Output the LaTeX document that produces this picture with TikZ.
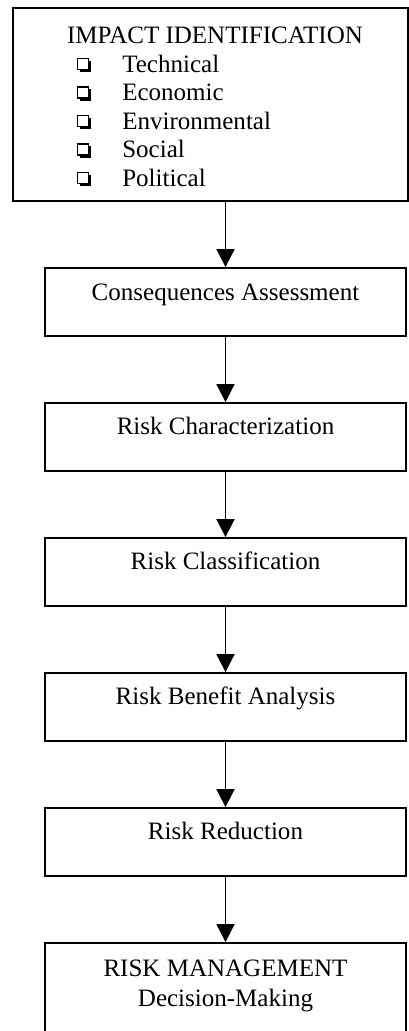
\documentclass[tikz,border=0pt]{standalone}
\usepackage{fontspec}
\setmainfont{Liberation Serif}
\usetikzlibrary{arrows.meta, positioning, shadows}

\begin{document}
\begin{tikzpicture}[
          outer/.style={
              draw=black,
              line width=1.4pt,
              minimum width=9.875cm,
              minimum height=4.825cm
            },
          flowbox/.style={
              draw=black,
              line width=1.3pt,
              minimum width=9.025cm,
              minimum height=1.7cm
            },
          flowtext/.style={
              font=\fontsize{17.8}{20.5}\selectfont,
              inner sep=0pt,
              anchor=base
            },
          item/.style={
              font=\fontsize{17.8}{20.5}\selectfont,
              inner sep=0pt,
              anchor=base west
            },
          bullet/.style={
              draw=black,
              fill=white,
              line width=0.9pt,
              minimum size=0.28cm,
              inner sep=0pt,
              general shadow={fill=black, shadow xshift=0.06cm, shadow yshift=-0.06cm}
            },
          arr/.style={-{Triangle[length=0.45cm, width=0.45cm]}, black, line width=1.3pt}
        ]
        \useasboundingbox (0,0) rectangle (10.225,-25.775);
        \clip (0,0) rectangle (10.225,-25.775);

        \node[outer] (impact_box) at (5.2625,-2.6125) {};
        \node[flowtext] (impact_title) at (5.375,-1.075) {IMPACT IDENTIFICATION};
        \node[bullet] (b_tech) at (2.075,-1.60) {};
        \node[item] (i_tech) at (3.05,-1.80) {Technical};
        \node[bullet] (b_econ) at (2.075,-2.3125) {};
        \node[item] (i_econ) at (3.05,-2.5125) {Economic};
        \node[bullet] (b_env) at (2.075,-3.025) {};
        \node[item] (i_env) at (3.05,-3.225) {Environmental};
        \node[bullet] (b_soc) at (2.075,-3.7375) {};
        \node[item] (i_soc) at (3.05,-3.9375) {Social};
        \node[bullet] (b_pol) at (2.075,-4.45) {};
        \node[item] (i_pol) at (3.05,-4.65) {Political};

        \node[flowbox] (cons) at (5.6375,-7.55) {};
        \node[flowtext] at ([yshift=-0.84cm]cons.north) {Consequences Assessment};
        \node[flowbox] (charac) at (5.6375,-10.925) {};
        \node[flowtext] at ([yshift=-0.82cm]charac.north) {Risk Characterization};
        \node[flowbox] (classif) at (5.6375,-14.3) {};
        \node[flowtext] at ([yshift=-0.82cm]classif.north) {Risk Classification};
        \node[flowbox] (benefit) at (5.6375,-17.675) {};
        \node[flowtext] at ([yshift=-0.80cm]benefit.north) {Risk Benefit Analysis};
        \node[flowbox] (reduct) at (5.6375,-21.05) {};
        \node[flowtext] at ([yshift=-0.80cm]reduct.north) {Risk Reduction};
        \node[flowbox, minimum height=2.5cm] (manage) at (5.6375,-24.825) {};
        \node[flowtext] (manage_title) at ([yshift=-0.85cm]manage.north) {RISK MANAGEMENT};
        \node[flowtext] (manage_sub) at ([yshift=-1.60cm]manage.north) {Decision-Making};

        \draw[arr] (impact_box.south -| cons.north) -- (cons.north);
        \draw[arr] (cons) -- (charac);
        \draw[arr] (charac) -- (classif);
        \draw[arr] (classif) -- (benefit);
        \draw[arr] (benefit) -- (reduct);
        \draw[arr] (reduct) -- (manage);
      \end{tikzpicture}
\end{document}
